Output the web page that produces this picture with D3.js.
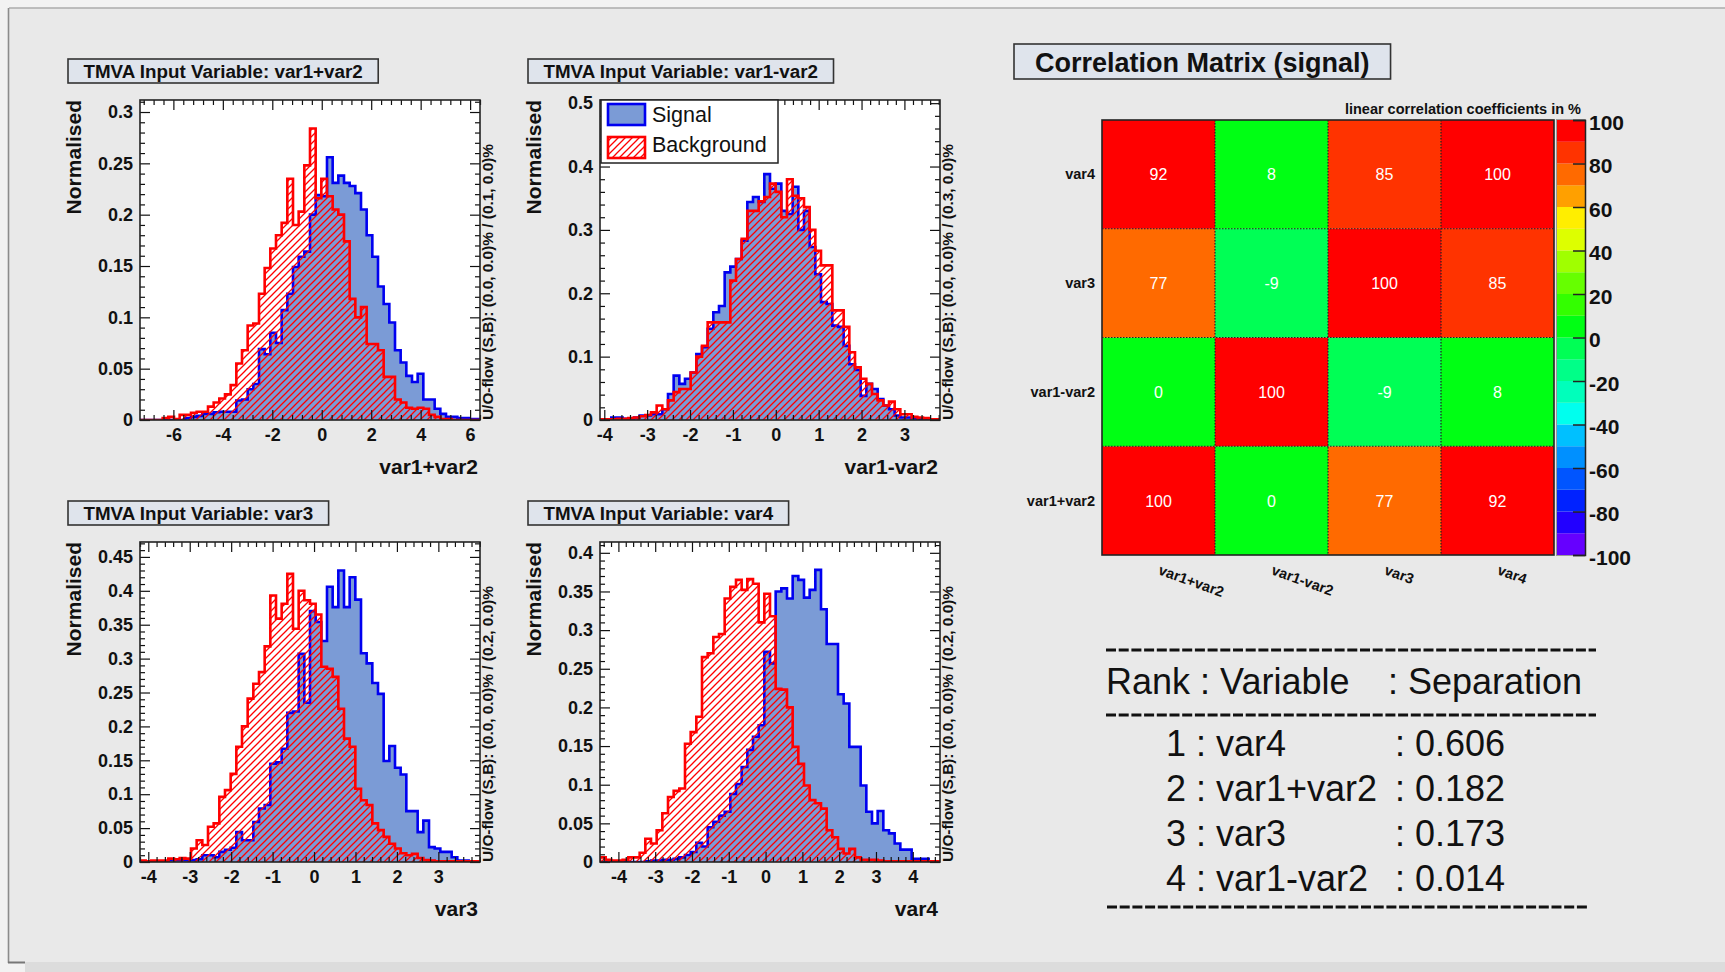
<!DOCTYPE html>
<html>
<head>
<meta charset="utf-8">
<script src="https://cdn.jsdelivr.net/npm/d3@7"></script>
<style>
  body { margin: 0; background: #f2f2f2; }
  svg { display: block; font-family: "Liberation Sans", Arial, Helvetica, sans-serif; }
</style>
</head>
<body>
<svg id="canvas" width="1725" height="972"></svg>
<script>
// ---------------- data ----------------
// Normalised input-variable distributions, 60 equal bins over each variable's range
const variables = ["var1+var2", "var1-var2", "var3", "var4"];

const rangeVar1p2 = [-7.35, 6.40];
const sigVar1p2 = [0,0,0,0,0,0,0,0,0.002,0.003,
  0.004,0.006,0.006,0.0075,0.008,0.008,0.008,0.019,0.02,0.03,
  0.035,0.069,0.064,0.085,0.075,0.107,0.123,0.149,0.159,0.164,
  0.2,0.219,0.218,0.256,0.231,0.238,0.231,0.228,0.221,0.205,
  0.18,0.159,0.13,0.113,0.095,0.068,0.056,0.043,0.037,0.045,
  0.02,0.02,0.011,0.006,0.003,0.003,0.002,0.002,0.001,0.001];
const bkgVar1p2 = [0,0,0,0,0.002,0.003,0.001,0.005,0.005,0.007,
  0.008,0.008,0.013,0.017,0.021,0.025,0.034,0.055,0.068,0.092,
  0.094,0.123,0.148,0.167,0.18,0.192,0.235,0.19,0.203,0.248,
  0.284,0.216,0.235,0.218,0.205,0.2,0.174,0.118,0.1,0.11,
  0.074,0.074,0.068,0.042,0.042,0.02,0.017,0.012,0.011,0.012,
  0.011,0.005,0.003,0.001,0.001,0,0,0,0,0];

const rangeVar1m2 = [-4.10, 3.83];
const sigVar1m2 = [0.001,0,0.004,0.004,0.002,0.002,0.004,0.007,0.007,0.009,
  0.009,0.017,0.041,0.07,0.057,0.065,0.075,0.104,0.115,0.144,
  0.17,0.18,0.233,0.242,0.254,0.283,0.344,0.352,0.344,0.388,
  0.365,0.373,0.33,0.325,0.368,0.3,0.33,0.273,0.23,0.186,
  0.183,0.149,0.147,0.117,0.088,0.079,0.038,0.057,0.049,0.033,
  0.023,0.017,0.007,0.004,0.004,0.003,0.002,0.001,0,0];
const bkgVar1m2 = [0.001,0.001,0.001,0.002,0.002,0.003,0.004,0.006,0.008,0.012,
  0.023,0.017,0.031,0.044,0.049,0.049,0.075,0.1,0.117,0.154,
  0.154,0.154,0.154,0.22,0.254,0.286,0.33,0.33,0.345,0.352,
  0.373,0.36,0.32,0.38,0.354,0.35,0.336,0.3,0.267,0.244,
  0.244,0.173,0.173,0.147,0.107,0.083,0.065,0.057,0.041,0.031,
  0.023,0.029,0.017,0.009,0.009,0.005,0.004,0.003,0.001,0.001];

const rangeVar3 = [-4.20, 4.005];
const sigVar3 = [0.001,0.001,0.001,0.001,0.001,0.003,0.003,0.003,0.003,0.003,
  0.004,0.01,0.01,0.007,0.015,0.018,0.021,0.044,0.032,0.032,
  0.059,0.079,0.084,0.145,0.147,0.167,0.22,0.222,0.307,0.235,
  0.37,0.354,0.326,0.406,0.376,0.43,0.376,0.42,0.387,0.308,
  0.293,0.264,0.248,0.149,0.171,0.139,0.129,0.075,0.075,0.044,
  0.061,0.022,0.02,0.015,0.015,0.007,0.002,0.002,0.001,0.001];
const bkgVar3 = [0.002,0.001,0.002,0.002,0.002,0.005,0.004,0.006,0.005,0.02,
  0.032,0.025,0.052,0.057,0.096,0.106,0.13,0.17,0.2,0.241,
  0.263,0.28,0.318,0.393,0.359,0.381,0.425,0.344,0.4,0.386,
  0.381,0.365,0.288,0.285,0.273,0.226,0.182,0.17,0.108,0.091,
  0.084,0.057,0.047,0.037,0.027,0.02,0.013,0.01,0.012,0.006,
  0.003,0.002,0.001,0.001,0.001,0.001,0.001,0.001,0.001,0.001];

const rangeVar4 = [-4.50, 4.74];
const sigVar4 = [0,0,0,0,0,0,0,0,0.001,0.002,
  0.002,0.003,0.003,0.004,0.006,0.009,0.013,0.025,0.02,0.045,
  0.052,0.06,0.065,0.088,0.101,0.123,0.145,0.162,0.177,0.272,
  0.257,0.35,0.354,0.341,0.37,0.365,0.342,0.352,0.378,0.327,
  0.282,0.282,0.217,0.205,0.149,0.149,0.099,0.065,0.05,0.066,
  0.041,0.037,0.024,0.016,0.016,0.004,0.004,0.004,0.001,0.001];
const bkgVar4 = [0.006,0.003,0.002,0.002,0.003,0.006,0.006,0.012,0.03,0.024,
  0.041,0.063,0.084,0.092,0.095,0.153,0.168,0.188,0.265,0.27,
  0.291,0.295,0.341,0.356,0.365,0.352,0.366,0.36,0.31,0.347,
  0.318,0.224,0.223,0.2,0.149,0.127,0.099,0.08,0.076,0.069,
  0.041,0.032,0.017,0.011,0.017,0.006,0.003,0.003,0.003,0.002,
  0.001,0.001,0.001,0.001,0.001,0.001,0.001,0.001,0.001,0.001];

// axis maxima and tick labels
const yMaxes = [0.3117, 0.505, 0.472, 0.414];
const yTicksVar1p2 = [0, 0.05, 0.1, 0.15, 0.2, 0.25, 0.3];
const yTicksVar1m2 = [0, 0.1, 0.2, 0.3, 0.4, 0.5];
const yTicksVar3 = [0, 0.05, 0.1, 0.15, 0.2, 0.25, 0.3, 0.35, 0.4, 0.45];
const yTicksVar4 = [0, 0.05, 0.1, 0.15, 0.2, 0.25, 0.3, 0.35, 0.4];
const xTicksVar1p2 = [-6, -4, -2, 0, 2, 4, 6];
const xTicksVar1m2 = [-4, -3, -2, -1, 0, 1, 2, 3];
const xTicksVar3 = [-4, -3, -2, -1, 0, 1, 2, 3];
const xTicksVar4 = [-4, -3, -2, -1, 0, 1, 2, 3, 4];
const overflowTexts = [
  "U/O-flow (S,B): (0.0, 0.0)% / (0.1, 0.0)%",
  "U/O-flow (S,B): (0.0, 0.0)% / (0.3, 0.0)%",
  "U/O-flow (S,B): (0.0, 0.0)% / (0.2, 0.0)%",
  "U/O-flow (S,B): (0.0, 0.0)% / (0.2, 0.0)%"
];

// linear correlation coefficients (signal), in %, rows/cols in `variables` order
const corrVar1p2 = [100, 0, 77, 92];
const corrVar1m2 = [0, 100, -9, 8];
const corrVar3 = [77, -9, 100, 85];
const corrVar4 = [92, 8, 85, 100];
const colorbarTicks = [-100, -80, -60, -40, -20, 0, 20, 40, 60, 80, 100];

// variable ranking
const rankOrder = [1, 2, 3, 4];
const rankNames = ["var4", "var1+var2", "var3", "var1-var2"];
const rankSeparation = ["0.606", "0.182", "0.173", "0.014"];

// ---------------- drawing ----------------
const svg = d3.select("#canvas");
const W = 1725, H = 972;
const FONT = '"Liberation Sans", Arial, Helvetica, sans-serif';
const SIG_FILL = "#7b9bd6", SIG_LINE = "#0000f0", BKG_LINE = "#ff0000";
const plainNum = d => String(+(+d).toFixed(3));   // hyphen-minus, no trailing zeros

// canvas frame
svg.append("rect").attr("width", W).attr("height", H).attr("fill", "#f2f2f2");
svg.append("rect").attr("x", 9).attr("y", 8).attr("width", W - 9).attr("height", 954).attr("fill", "#e9e9e9");
svg.append("rect").attr("x", 25).attr("y", 962).attr("width", W - 25).attr("height", 10).attr("fill", "#dcdcdc");
svg.append("line").attr("x1", 9).attr("x2", W).attr("y1", 8).attr("y2", 8).attr("stroke", "#ababab").attr("stroke-width", 1.3);
svg.append("line").attr("x1", 8.5).attr("x2", 8.5).attr("y1", 8).attr("y2", 963).attr("stroke", "#8c8c8c").attr("stroke-width", 1.6);
svg.append("line").attr("x1", 8).attr("x2", 25).attr("y1", 962.5).attr("y2", 962.5).attr("stroke", "#777").attr("stroke-width", 2);

const defs = svg.append("defs");
const hatch = defs.append("pattern").attr("id", "hatch")
  .attr("patternUnits", "userSpaceOnUse").attr("width", 7).attr("height", 7);
hatch.append("path").attr("d", "M-1,1 l2,-2 M0,7 l7,-7 M6,8 l2,-2")
  .attr("stroke", BKG_LINE).attr("stroke-width", 1.3).attr("fill", "none");

function titleBox(x, y, text, fontSize, padX, h, baselineOff) {
  const g = svg.append("g");
  const rect = g.append("rect").attr("x", x).attr("y", y).attr("height", h)
    .attr("fill", "#dfe4ec").attr("stroke", "#333").attr("stroke-width", 1.6);
  const t = g.append("text").attr("y", y + baselineOff).attr("text-anchor", "middle")
    .attr("font-weight", "bold").attr("font-size", fontSize).attr("fill", "#111").text(text);
  const w = t.node().getComputedTextLength() + 2 * padX;
  rect.attr("width", w);
  t.attr("x", x + w / 2);
}

const panels = [
  { name: variables[0], sig: sigVar1p2, bkg: bkgVar1p2, range: rangeVar1p2, yMax: yMaxes[0],
    yTicks: yTicksVar1p2, yMinor: 0.01, xTicks: xTicksVar1p2, xMinor: 0.4, flow: overflowTexts[0], fx: 140, fy: 100, tx: 68, ty: 59 },
  { name: variables[1], sig: sigVar1m2, bkg: bkgVar1m2, range: rangeVar1m2, yMax: yMaxes[1],
    yTicks: yTicksVar1m2, yMinor: 0.02, xTicks: xTicksVar1m2, xMinor: 0.2, flow: overflowTexts[1], fx: 600, fy: 100, tx: 528, ty: 59, legend: true },
  { name: variables[2], sig: sigVar3, bkg: bkgVar3, range: rangeVar3, yMax: yMaxes[2],
    yTicks: yTicksVar3, yMinor: 0.01, xTicks: xTicksVar3, xMinor: 0.2, flow: overflowTexts[2], fx: 140, fy: 542, tx: 68, ty: 501 },
  { name: variables[3], sig: sigVar4, bkg: bkgVar4, range: rangeVar4, yMax: yMaxes[3],
    yTicks: yTicksVar4, yMinor: 0.01, xTicks: xTicksVar4, xMinor: 0.2, flow: overflowTexts[3], fx: 600, fy: 542, tx: 528, ty: 501 }
];

const FW = 340, FH = 320;

function minorValues(lo, hi, step, majors) {
  const out = [];
  const start = Math.ceil(lo / step - 1e-9);
  for (let i = start; i * step <= hi + 1e-9; i++) {
    const v = +(i * step).toFixed(6);
    if (!majors.some(m => Math.abs(m - v) < 1e-6)) out.push(v);
  }
  return out;
}

function styleAxis(sel, size) {
  sel.select(".domain").remove();
  sel.selectAll(".tick line").attr("stroke", "#111").attr("stroke-width", 1.2);
  sel.selectAll("text").attr("font-family", FONT).attr("font-weight", "bold")
    .attr("font-size", size).attr("fill", "#111");
}

panels.forEach((p, idx) => {
  const g = svg.append("g");
  const x = d3.scaleLinear().domain(p.range).range([p.fx, p.fx + FW]);
  const y = d3.scaleLinear().domain([0, p.yMax]).range([p.fy + FH, p.fy]);

  titleBox(p.tx, p.ty, "TMVA Input Variable: " + p.name, 18.8, 15.5, 24, 18.5);

  g.append("rect").attr("x", p.fx).attr("y", p.fy).attr("width", FW).attr("height", FH).attr("fill", "#fff");

  const clipId = "clip" + idx;
  defs.append("clipPath").attr("id", clipId).append("rect")
    .attr("x", p.fx).attr("y", p.fy).attr("width", FW).attr("height", FH);
  const plot = g.append("g").attr("clip-path", `url(#${clipId})`);

  const n = p.sig.length;
  const step = (p.range[1] - p.range[0]) / n;
  const edges = d3.range(n + 1).map(i => p.range[0] + i * step);
  const stepPoints = vals => {
    const pts = [[edges[0], 0]];
    vals.forEach((v, i) => { pts.push([edges[i], v]); pts.push([edges[i + 1], v]); });
    pts.push([edges[n], 0]);
    return pts;
  };
  const line = d3.line().x(d => x(d[0])).y(d => y(d[1]));

  plot.append("path").attr("d", line(stepPoints(p.sig)) + "Z").attr("fill", SIG_FILL);
  plot.append("path").attr("d", line(stepPoints(p.sig))).attr("fill", "none")
    .attr("stroke", SIG_LINE).attr("stroke-width", 2.6).attr("stroke-linejoin", "miter");
  plot.append("path").attr("d", line(stepPoints(p.bkg)) + "Z").attr("fill", "url(#hatch)");
  plot.append("path").attr("d", line(stepPoints(p.bkg))).attr("fill", "none")
    .attr("stroke", BKG_LINE).attr("stroke-width", 2.6).attr("stroke-linejoin", "miter");

  // axes: ticks point inward on all four sides
  const yMinor = minorValues(0, p.yMax, p.yMinor, p.yTicks);
  const xMinor = minorValues(p.range[0], p.range[1], p.xMinor, p.xTicks);

  g.append("g").attr("transform", `translate(${p.fx},0)`)
    .call(d3.axisLeft(y).tickValues(p.yTicks).tickSize(-10).tickPadding(7).tickFormat(plainNum))
    .call(s => styleAxis(s, 18));
  g.append("g").attr("transform", `translate(${p.fx},0)`)
    .call(d3.axisLeft(y).tickValues(yMinor).tickSize(-5).tickFormat(""))
    .call(s => styleAxis(s, 18));
  g.append("g").attr("transform", `translate(${p.fx + FW},0)`)
    .call(d3.axisRight(y).tickValues(p.yTicks).tickSize(-10).tickFormat(""))
    .call(s => styleAxis(s, 18));
  g.append("g").attr("transform", `translate(${p.fx + FW},0)`)
    .call(d3.axisRight(y).tickValues(yMinor).tickSize(-5).tickFormat(""))
    .call(s => styleAxis(s, 18));
  g.append("g").attr("transform", `translate(0,${p.fy + FH})`)
    .call(d3.axisBottom(x).tickValues(p.xTicks).tickSize(-10).tickPadding(8).tickFormat(plainNum))
    .call(s => styleAxis(s, 18));
  g.append("g").attr("transform", `translate(0,${p.fy + FH})`)
    .call(d3.axisBottom(x).tickValues(xMinor).tickSize(-5).tickFormat(""))
    .call(s => styleAxis(s, 18));
  g.append("g").attr("transform", `translate(0,${p.fy})`)
    .call(d3.axisTop(x).tickValues(p.xTicks).tickSize(-10).tickFormat(""))
    .call(s => styleAxis(s, 18));
  g.append("g").attr("transform", `translate(0,${p.fy})`)
    .call(d3.axisTop(x).tickValues(xMinor).tickSize(-5).tickFormat(""))
    .call(s => styleAxis(s, 18));

  g.append("rect").attr("x", p.fx).attr("y", p.fy).attr("width", FW).attr("height", FH)
    .attr("fill", "none").attr("stroke", "#222").attr("stroke-width", 1.6);

  // axis titles
  g.append("text").attr("transform", `translate(${p.fx - 59},${p.fy}) rotate(-90)`)
    .attr("text-anchor", "end").attr("font-weight", "bold").attr("font-size", 21).attr("fill", "#111")
    .text("Normalised");
  g.append("text").attr("x", p.fx + FW - 2).attr("y", p.fy + FH + 54)
    .attr("text-anchor", "end").attr("font-weight", "bold").attr("font-size", 21).attr("fill", "#111")
    .text(p.name);
  g.append("text").attr("transform", `translate(${p.fx + FW + 13},${p.fy + FH}) rotate(-90)`)
    .attr("text-anchor", "start").attr("font-weight", "bold").attr("font-size", 14)
    .attr("textLength", 276).attr("lengthAdjust", "spacingAndGlyphs").attr("fill", "#111")
    .text(p.flow);

  if (p.legend) {
    const lg = g.append("g");
    lg.append("rect").attr("x", p.fx + 1).attr("y", p.fy).attr("width", 177).attr("height", 63)
      .attr("fill", "#fff").attr("stroke", "#222").attr("stroke-width", 1.5);
    lg.append("rect").attr("x", p.fx + 8).attr("y", p.fy + 4).attr("width", 37).attr("height", 21)
      .attr("fill", SIG_FILL).attr("stroke", SIG_LINE).attr("stroke-width", 2.6);
    lg.append("rect").attr("x", p.fx + 8).attr("y", p.fy + 37).attr("width", 37).attr("height", 21)
      .attr("fill", "url(#hatch)").attr("stroke", BKG_LINE).attr("stroke-width", 2.6);
    lg.append("text").attr("x", p.fx + 52).attr("y", p.fy + 22).attr("font-size", 21.5).attr("fill", "#111").text("Signal");
    lg.append("text").attr("x", p.fx + 52).attr("y", p.fy + 52).attr("font-size", 21.5).attr("fill", "#111").text("Background");
  }
});

// ---------------- correlation matrix ----------------
titleBox(1014, 44, "Correlation Matrix (signal)", 27, 21, 35, 27.5);

const corrRows = [corrVar1p2, corrVar1m2, corrVar3, corrVar4];
const palette = ["#6600ff", "#2200ff", "#0022ff", "#0055ff", "#0090ff", "#00c0ff", "#00ffee", "#00ffbb", "#00ff88", "#00ff55",
                 "#00ff14", "#33ff00", "#66ff00", "#a0ff00", "#ddff00", "#ffee00", "#ffa000", "#ff6a00", "#ff3300", "#ff0000"];
const zScale = d3.scaleQuantize().domain([-100, 100]).range(palette);
const colorOf = v => v >= 100 ? palette[19] : zScale(v);

const mx = d3.scaleBand().domain(variables).range([1102, 1554]);
const my = d3.scaleBand().domain(variables).range([555, 120]);
const cells = [];
corrRows.forEach((row, i) => row.forEach((v, j) => cells.push({ r: variables[i], c: variables[j], v })));

const mg = svg.append("g");
mg.selectAll("rect.cell").data(cells).join("rect").attr("class", "cell")
  .attr("x", d => mx(d.c)).attr("y", d => my(d.r))
  .attr("width", mx.bandwidth()).attr("height", my.bandwidth())
  .attr("fill", d => colorOf(d.v));
// dotted cell boundaries
variables.slice(1).forEach(v => {
  mg.append("line").attr("x1", mx(v)).attr("x2", mx(v)).attr("y1", 120).attr("y2", 555)
    .attr("stroke", "#222").attr("stroke-width", 1.2).attr("stroke-dasharray", "1.5,1.5");
  mg.append("line").attr("y1", my(v) + my.bandwidth()).attr("y2", my(v) + my.bandwidth()).attr("x1", 1102).attr("x2", 1554)
    .attr("stroke", "#222").attr("stroke-width", 1.2).attr("stroke-dasharray", "1.5,1.5");
});
mg.append("rect").attr("x", 1102).attr("y", 120).attr("width", 452).attr("height", 435)
  .attr("fill", "none").attr("stroke", "#222").attr("stroke-width", 1.6);
mg.selectAll("text.val").data(cells).join("text").attr("class", "val")
  .attr("x", d => mx(d.c) + mx.bandwidth() / 2).attr("y", d => my(d.r) + my.bandwidth() / 2 + 6)
  .attr("text-anchor", "middle").attr("font-size", 16).attr("fill", "#fff").text(d => d.v);

mg.selectAll("text.rowlab").data(variables).join("text").attr("class", "rowlab")
  .attr("x", 1095).attr("y", d => my(d) + my.bandwidth() / 2 + 5)
  .attr("text-anchor", "end").attr("font-weight", "bold").attr("font-size", 14.5).attr("fill", "#111").text(d => d);
mg.selectAll("text.collab").data(variables).join("text").attr("class", "collab")
  .attr("transform", d => `translate(${mx(d) + mx.bandwidth() / 2 - 1},${574}) rotate(20)`)
  .attr("font-weight", "bold").attr("font-size", 14.5).attr("fill", "#111").text(d => d);
mg.append("text").attr("x", 1581).attr("y", 114).attr("text-anchor", "end")
  .attr("font-weight", "bold").attr("font-size", 14.5).attr("fill", "#111")
  .text("linear correlation coefficients in %");

// colour scale
const cy = d3.scaleLinear().domain([-100, 100]).range([555, 120]);
const bands = palette.map((c, i) => ({ lo: -100 + i * 10, hi: -90 + i * 10, c }));
mg.selectAll("rect.band").data(bands).join("rect").attr("class", "band")
  .attr("x", 1557).attr("width", 28).attr("y", d => cy(d.hi)).attr("height", d => cy(d.lo) - cy(d.hi))
  .attr("fill", d => d.c);
mg.append("rect").attr("x", 1556.5).attr("y", 119.5).attr("width", 29).attr("height", 436)
  .attr("fill", "none").attr("stroke", "#999").attr("stroke-width", 1);
mg.append("g").attr("transform", "translate(1585,0)")
  .call(d3.axisRight(cy).tickValues(colorbarTicks).tickSize(-12).tickPadding(4).tickFormat(plainNum))
  .call(s => {
    s.select(".domain").attr("stroke", "#222").attr("stroke-width", 1.5);
    s.selectAll(".tick line").attr("stroke", "#222").attr("stroke-width", 1.5);
    s.selectAll("text").attr("font-family", FONT).attr("font-weight", "bold").attr("font-size", 21)
      .attr("fill", "#111").attr("dy", "0.45em");
  });

// ---------------- ranking table ----------------
const tg = svg.append("g").attr("font-size", 36).attr("fill", "#111");
const dash = (y, x1, x2) => tg.append("line").attr("x1", x1).attr("x2", x2).attr("y1", y).attr("y2", y)
  .attr("stroke", "#111").attr("stroke-width", 3).attr("stroke-dasharray", "10,2.7");
dash(650, 1106, 1596);
tg.append("text").attr("x", 1106).attr("y", 694).text("Rank : Variable");
tg.append("text").attr("x", 1388).attr("y", 694).text(": Separation");
dash(715, 1106, 1596);
rankOrder.forEach((r, i) => {
  tg.append("text").attr("x", 1166).attr("y", 756 + i * 45).text(`${r} : ${rankNames[i]}`);
  tg.append("text").attr("x", 1395).attr("y", 756 + i * 45).text(`: ${rankSeparation[i]}`);
});
dash(907, 1107, 1587);
</script>
</body>
</html>
